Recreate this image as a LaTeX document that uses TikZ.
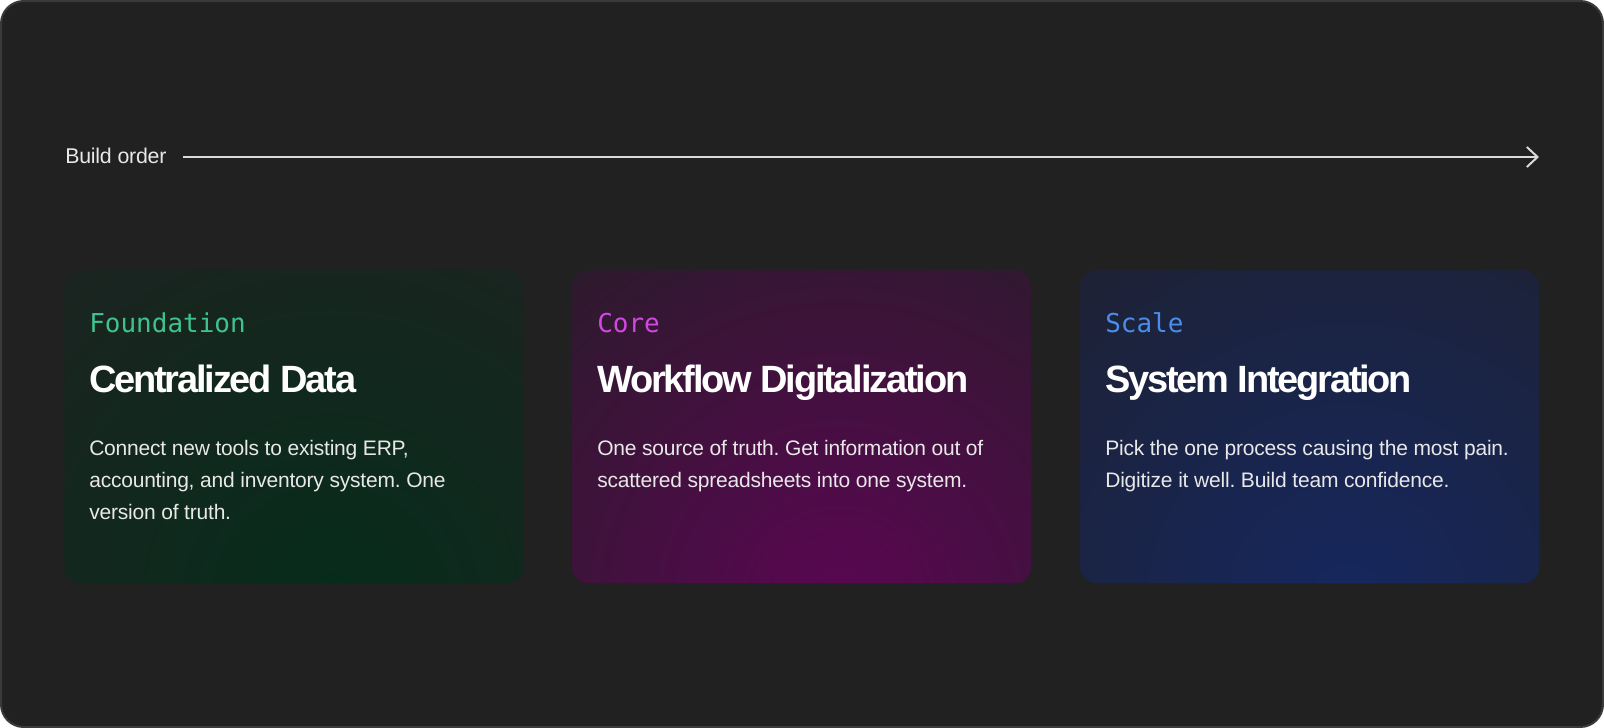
\documentclass[tikz,border=0pt]{standalone}
\usepackage{fontspec}
\setmainfont{Liberation Sans}
\newfontfamily\tagfont{DejaVu Sans Mono}
\newfontfamily\headfont{Liberation Sans}[LetterSpace=-5.8]
\newfontfamily\bodyfont{Liberation Sans}[LetterSpace=-1.0]
\usepackage{tikz}
\usetikzlibrary{calc, arrows.meta}
\frenchspacing
\newcommand{\lOrder}{Build order}
\newcommand{\lLines}[1]{\begin{tabular}[t]{@{}l@{}}#1\end{tabular}}
\newcommand{\lBodyFoundation}{\lLines{Connect new tools to existing ERP,\\accounting, and inventory system. One\\version of truth.}}
\newcommand{\lBodyCore}{\lLines{One source of truth. Get information out of\\scattered spreadsheets into one system.}}
\newcommand{\lBodyScale}{\lLines{Pick the one process causing the most pain.\\Digitize it well. Build team confidence.}}
\definecolor{themeBg}{HTML}{212121}
\definecolor{themeFrame}{HTML}{3A3A3A}
\definecolor{themeLine}{HTML}{DADADA}
\definecolor{themeText}{HTML}{E8E8E8}
\definecolor{tagColor1}{HTML}{3FC28E}
\definecolor{tagColor2}{HTML}{D048E2}
\definecolor{tagColor3}{HTML}{4A8DEA}
\definecolor{cardBase1}{HTML}{1E2321}
\definecolor{cardGlow1}{HTML}{062C1B}
\definecolor{cardBase2}{HTML}{271D28}
\definecolor{cardGlow2}{HTML}{5A0652}
\definecolor{cardBase3}{HTML}{1F2130}
\definecolor{cardGlow3}{HTML}{15275E}

\begin{document}
\begin{tikzpicture} [
        x=0.75pt, y=-0.75pt,
        frame/.style={fill=themeBg, draw=themeFrame, line width=1.5pt, rounded corners=17pt},
        card/.style={anchor=north west, minimum width=344.25pt, minimum height=234.75pt, inner sep=0pt, rounded corners=12pt},
        order/.style={anchor=base west, inner sep=0pt, text=themeText, font=\bodyfont\fontsize{16pt}{19pt}\selectfont},
        tag/.style={anchor=base west, inner sep=0pt, font=\tagfont\fontsize{19.5pt}{23pt}\selectfont},
        heading/.style={anchor=base west, inner sep=0pt, text=white, font=\headfont\bfseries\fontsize{28.5pt}{34pt}\selectfont},
        body/.style={anchor=base west, inner sep=0pt, text=themeText, font=\bodyfont\fontsize{15.75pt}{24pt}\selectfont},
        timeline/.style={draw=themeLine, line width=1.5pt, -{Straight Barb[length=8pt, width=15pt]}}
    ]
    \useasboundingbox (0,0) rectangle (1604,728);
    \draw[frame] (1,1) rectangle (1603,727);

    \node[order] (order) at (65,163) {\lOrder};
    \coordinate (order end) at (1539,157);
    \draw[timeline] ($(order.east |- order end) + (16,0)$) -- (order end);

    \foreach \tag/\title/\body [count=\i from 1] in {Foundation/Centralized Data/\lBodyFoundation, Core/Workflow Digitalization/\lBodyCore, Scale/System Integration/\lBodyScale} {
        \pgfmathsetmacro{\CardLeft}{64+(\i-1)*508}
        \node[card, fill=cardBase\i, path picture={
            \shade[inner color=cardGlow\i, outer color=cardBase\i] ($(path picture bounding box.south west)!0.58!(path picture bounding box.south east) + (0,20)$) circle (480);
        }] (card \i) at (\CardLeft,270) {};
        \node[tag, text=tagColor\i] (tag \i) at ($(card \i.north west) + (25,62)$) {\tag};
        \node[heading] (title \i) at ($(card \i.north west) + (25,122)$) {\title};
        \node[body] (body \i) at ($(card \i.north west) + (25,185)$) {\body};
    }
\end{tikzpicture}
\end{document}
